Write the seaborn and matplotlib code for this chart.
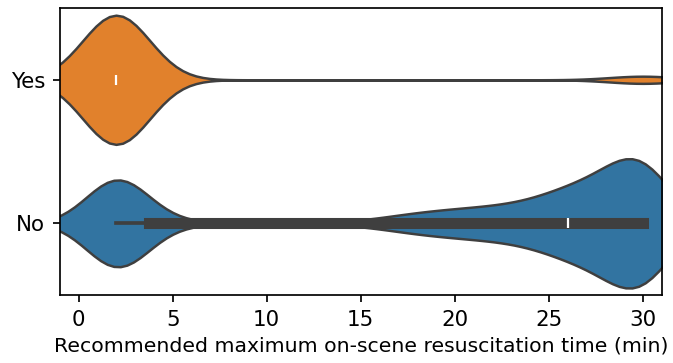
import matplotlib
matplotlib.use("Agg")
import matplotlib.pyplot as plt
import numpy as np
import pandas as pd
import seaborn as sns

# categories (top to bottom)
groups = ["Yes", "No"]

# responses: recommended max on-scene time (min) and how many gave it
yes_times = [2, 30]
yes_counts = [18, 1]

no_times = [2, 3, 4, 5, 7, 10, 13,
            15, 16, 17, 18, 19, 20, 21, 22, 23, 24, 25,
            26, 27, 28, 29, 30]
no_counts = [113, 7, 3, 3, 1, 1, 1,
             2, 3, 6, 8, 9, 10, 11, 12, 13, 15, 18,
             30, 30, 31, 31, 122]

x_ticks = [0, 5, 10, 15, 20, 25, 30]
x_label = "Recommended maximum on-scene resuscitation time (min)"
palette = {"Yes": "C1", "No": "C0"}

df = pd.concat(
    [
        pd.DataFrame({"time": np.repeat(yes_times, yes_counts), "answer": "Yes"}),
        pd.DataFrame({"time": np.repeat(no_times, no_counts), "answer": "No"}),
    ],
    ignore_index=True,
)

fig, ax = plt.subplots(figsize=(673 / 154, 363 / 154), dpi=154)
fig.subplots_adjust(left=0.089, right=0.983, bottom=0.187, top=0.978)

sns.violinplot(
    data=df,
    x="time",
    y="answer",
    hue="answer",
    order=groups,
    hue_order=groups,
    palette=palette,
    density_norm="width",
    bw_adjust=0.5,
    width=0.9,
    linewidth=1.15,
    legend=False,
    ax=ax,
)
ax.set_xlim(-1, 31)
ax.set_xticks(x_ticks)
ax.set_xlabel(x_label, fontsize=9.5, labelpad=3)
ax.set_ylabel("")

fig.savefig("out.png", dpi=154)
